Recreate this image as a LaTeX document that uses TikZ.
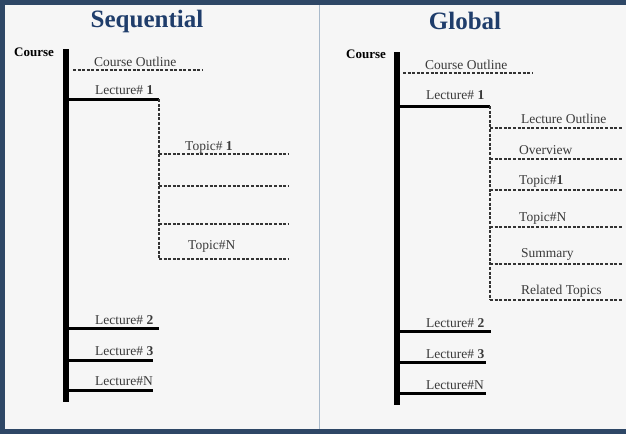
\documentclass[tikz,border=0pt]{standalone}
\usepackage{fontspec}
\setmainfont{Liberation Serif}
\usetikzlibrary{positioning}
\definecolor{framebl}{HTML}{2E4766}
\definecolor{paper}{HTML}{F6F6F6}
\definecolor{titlebl}{HTML}{1F3D6B}
\definecolor{divbl}{HTML}{A9BACB}
\definecolor{txtgray}{HTML}{3A3A3A}
\begin{document}
\begin{tikzpicture}[%
	x=1pt, y=-1pt,              % pixel-like units, top-down
	every node/.style={font=\fontsize{13.5}{15}\selectfont, text=txtgray, inner sep=0pt},
	]
	% -------------------------------------------------
	% A few line and text styles
	\tikzset{
		title/.style={font=\fontsize{25}{28}\selectfont\bfseries, text=titlebl},
		root/.style={font=\fontsize{13}{15}\selectfont\bfseries, text=black},
		lbl/.style={anchor=west},
		trunk/.style={line width=6pt, black},
		lect/.style={line width=3pt, black},
		sub/.style={line width=1.3pt, dash pattern=on 3pt off 1.6pt, black!80},
	}

	% frame and background
	\fill[framebl] (0,0) rectangle (626,434);
	\fill[paper] (5,5) rectangle (626,429);
	\draw[divbl, line width=1pt] (319,5) -- (319,429);
	\useasboundingbox (0,0) rectangle (626,434);

	% ------------------------------------------------- Sequential
	\node[title] (seqtitle) at (147,21) {Sequential};
	\node[root] (seqcourse) at (34,52) {Course};
	\coordinate (seqtop) at (66,49);
	\coordinate (seqbot) at (66,402);
	\draw[trunk] (seqtop) -- (seqbot);

	\node[lbl] (seqco) at (94,62) {Course Outline};
	\coordinate (seqcoa) at (73,70);
	\coordinate (seqcob) at (202,70);
	\draw[sub] (seqcoa) -- (seqcob);

	\node[lbl] (seql1) at (95,90) {Lecture\# \textbf{1}};
	\coordinate (seql1a) at (66,99);
	\coordinate (seql1b) at (159,99);
	\coordinate (seqdrop) at (159,259);
	\draw[lect] (seql1a) -- (seql1b);
	\draw[sub] (seql1b) -- (seqdrop);

	\node[lbl] (seqt1) at (185,147) {Topic\# \textbf{1}};
	\coordinate (seqt1a) at (159,154);
	\coordinate (seqt1b) at (288,154);
	\coordinate (seqt2a) at (159,186);
	\coordinate (seqt2b) at (288,186);
	\coordinate (seqt3a) at (159,224);
	\coordinate (seqt3b) at (288,224);
	\node[lbl] (seqtn) at (188,246) {Topic\#N};
	\coordinate (seqtnb) at (288,259);
	\draw[sub] (seqt1a) -- (seqt1b);
	\draw[sub] (seqt2a) -- (seqt2b);
	\draw[sub] (seqt3a) -- (seqt3b);
	\draw[sub] (seqdrop) -- (seqtnb);

	\node[lbl] (seql2) at (95,320) {Lecture\# \textbf{2}};
	\node[lbl] (seql3) at (95,351) {Lecture\# \textbf{3}};
	\node[lbl] (seqln) at (95,381) {Lecture\#N};
	\coordinate (seql2a) at (66,328);
	\coordinate (seql2b) at (159,328);
	\coordinate (seql3a) at (66,360);
	\coordinate (seql3b) at (153,360);
	\coordinate (seqlna) at (66,390);
	\coordinate (seqlnb) at (153,390);
	\draw[lect] (seql2a) -- (seql2b);
	\draw[lect] (seql3a) -- (seql3b);
	\draw[lect] (seqlna) -- (seqlnb);

	% ------------------------------------------------- Global
	\node[title] (globtitle) at (465,21) {Global};
	\node[root] (globcourse) at (366,54) {Course};
	\coordinate (globtop) at (397,52);
	\coordinate (globbot) at (397,405);
	\draw[trunk] (globtop) -- (globbot);

	\node[lbl] (globco) at (425,65) {Course Outline};
	\coordinate (globcoa) at (403,73);
	\coordinate (globcob) at (533,73);
	\draw[sub] (globcoa) -- (globcob);

	\node[lbl] (globl1) at (426,95) {Lecture\# \textbf{1}};
	\coordinate (globl1a) at (397,106);
	\coordinate (globl1b) at (490,106);
	\coordinate (globdrop) at (490,300);
	\draw[lect] (globl1a) -- (globl1b);
	\draw[sub] (globl1b) -- (globdrop);

	\node[lbl] (globlo) at (521,119) {Lecture Outline};
	\node[lbl] (globov) at (519,150) {Overview};
	\node[lbl] (globt1) at (519,181) {Topic\#\textbf{1}};
	\node[lbl] (globtn) at (519,218) {Topic\#N};
	\node[lbl] (globsum) at (521,254) {Summary};
	\node[lbl] (globrel) at (521,291) {Related Topics};
	\coordinate (globloa) at (490,128);
	\coordinate (globlob) at (622,128);
	\coordinate (globova) at (490,159);
	\coordinate (globovb) at (622,159);
	\coordinate (globt1a) at (490,190);
	\coordinate (globt1b) at (622,190);
	\coordinate (globtna) at (490,227);
	\coordinate (globtnb) at (622,227);
	\coordinate (globsuma) at (490,264);
	\coordinate (globsumb) at (622,264);
	\coordinate (globrelb) at (622,300);
	\draw[sub] (globloa) -- (globlob);
	\draw[sub] (globova) -- (globovb);
	\draw[sub] (globt1a) -- (globt1b);
	\draw[sub] (globtna) -- (globtnb);
	\draw[sub] (globsuma) -- (globsumb);
	\draw[sub] (globdrop) -- (globrelb);

	\node[lbl] (globl2) at (426,323) {Lecture\# \textbf{2}};
	\node[lbl] (globl3) at (426,354) {Lecture\# \textbf{3}};
	\node[lbl] (globln) at (426,385) {Lecture\#N};
	\coordinate (globl2a) at (397,331);
	\coordinate (globl2b) at (491,331);
	\coordinate (globl3a) at (397,362);
	\coordinate (globl3b) at (486,362);
	\coordinate (globlna) at (397,393);
	\coordinate (globlnb) at (486,393);
	\draw[lect] (globl2a) -- (globl2b);
	\draw[lect] (globl3a) -- (globl3b);
	\draw[lect] (globlna) -- (globlnb);

\end{tikzpicture}
\end{document}
